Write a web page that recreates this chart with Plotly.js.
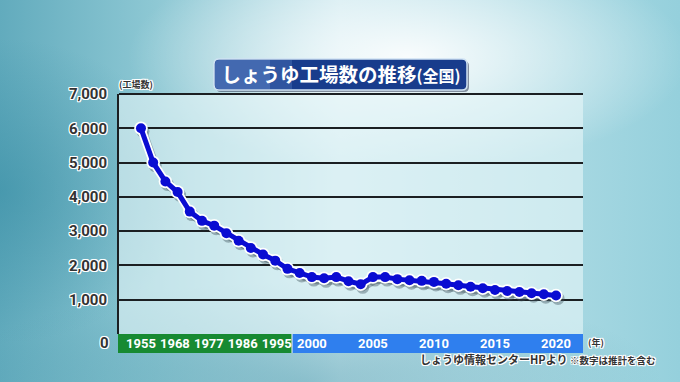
<!DOCTYPE html>
<html><head><meta charset="utf-8">
<script src="https://cdn.plot.ly/plotly-3.0.1.min.js"></script>
<style>
html,body{margin:0;padding:0;}
body{width:680px;height:382px;overflow:hidden;
background:
 radial-gradient(ellipse 55% 40% at 60% 15%, rgba(255,255,255,0.9), rgba(255,255,255,0) 75%),
 radial-gradient(ellipse 35% 50% at 0% 50%, rgba(40,130,155,0.45), rgba(40,130,155,0) 80%),
 radial-gradient(ellipse 70% 35% at 45% 100%, rgba(60,140,160,0.4), rgba(60,140,160,0) 75%),
 linear-gradient(90deg, #62abbd 0%, #8cc7d3 22%, #c9e7ee 50%, #b0dce5 75%, #95d0dc 100%);}
#chart{width:680px;height:382px;}
</style></head><body><div id="chart"></div>
<script>
// Number of soy sauce factories (nationwide)
const factories = [6000, 5000, 4450, 4140, 3570, 3300, 3160, 2940, 2720, 2510, 2320, 2140, 1900, 1780,
  1660, 1625, 1660, 1540, 1450, 1660, 1660, 1600, 1570, 1550, 1520, 1465, 1420, 1380, 1335, 1285,
  1255, 1225, 1190, 1160, 1125];
const earlyPointCount = 14;               // points before 2000 (irregular years)
const earlyTickLabels = ['1955', '1968', '1977', '1986', '1995'];
const laterTickYears = [2000, 2005, 2010, 2015, 2020];
const yTickValues = [1000, 2000, 3000, 4000, 5000, 6000, 7000];
const yTickLabels = ['1,000', '2,000', '3,000', '4,000', '5,000', '6,000', '7,000'];

const idx = factories.map((v, i) => i);

// layout geometry (pixels)
const L = 119, R = 583, T = 94, B = 334;
const W = 680, H = 382;
const xr = [-1.8, 36.21], yr = [0, 7000];
const pxX = (R - L) / (xr[1] - xr[0]);
const pxY = (B - T) / (yr[1] - yr[0]);
const px = x => (x - L) / (R - L);
const py = y => (B - y) / (B - T);

const earlySpacing = 2.78;
const tickvals = earlyTickLabels.map((t, k) => k * earlySpacing)
  .concat(laterTickYears.map(y => earlyPointCount + (y - 2000)));
const ticktext = earlyTickLabels.concat(laterTickYears.map(String));

const sdx = 2, sdy = 3;
const traces = [
  {x: idx, y: factories, xaxis: 'x2', yaxis: 'y2', mode: 'lines+markers', hoverinfo: 'skip',
   line: {color: 'rgba(60,80,90,0.4)', width: 8}, marker: {color: 'rgba(60,80,90,0.4)', size: 13}},
  {x: idx, y: factories, xaxis: 'x3', yaxis: 'y3', mode: 'lines+markers', hoverinfo: 'skip',
   line: {color: '#ffffff', width: 8.5}, marker: {color: '#ffffff', size: 13.5}},
  {x: idx, y: factories, xaxis: 'x3', yaxis: 'y3', mode: 'lines+markers',
   line: {color: '#0a0cd2', width: 5}, marker: {color: '#0a0cd2', size: 10}}
];

const outline = '1px 1px 0 #fff, -1px -1px 0 #fff, 1px -1px 0 #fff, -1px 1px 0 #fff, 0 1px 0 #fff, 0 -1px 0 #fff, 1px 0 0 #fff, -1px 0 0 #fff';

function roundRect(x0, y0, x1, y1, r) {
  const a = px(x0), b = px(x1), c = py(y0), d = py(y1);
  const rx = r / (R - L), ry = r / (B - T);
  return `M ${a + rx} ${c} L ${b - rx} ${c} Q ${b} ${c} ${b} ${c - ry} L ${b} ${d + ry} Q ${b} ${d} ${b - rx} ${d} ` +
    `L ${a + rx} ${d} Q ${a} ${d} ${a} ${d + ry} L ${a} ${c - ry} Q ${a} ${c} ${a + rx} ${c} Z`;
}
function leftRound(x0, y0, x1, y1, r) {
  const a = px(x0), b = px(x1), c = py(y0), d = py(y1);
  const rx = r / (R - L), ry = r / (B - T);
  return `M ${a + rx} ${c} L ${b} ${c} L ${b} ${d} L ${a + rx} ${d} Q ${a} ${d} ${a} ${d + ry} L ${a} ${c - ry} Q ${a} ${c} ${a + rx} ${c} Z`;
}

const shapes = [
  // title box shadow + box
  {type: 'path', xref: 'paper', yref: 'paper', path: roundRect(216, 61, 469, 92, 5), fillcolor: 'rgba(10,20,50,0.45)', line: {width: 0}, layer: 'above'},
  {type: 'path', xref: 'paper', yref: 'paper', path: roundRect(214, 59, 467, 90, 5), fillcolor: '#183c8c', line: {color: '#cfe2f3', width: 1.5}, layer: 'above'},
  {type: 'path', xref: 'paper', yref: 'paper', path: leftRound(215, 60, 270, 89, 4), fillcolor: 'rgba(120,160,220,0.45)', line: {width: 0}, layer: 'above'},
  {type: 'rect', xref: 'paper', yref: 'paper', x0: px(270), x1: px(292), y0: py(60), y1: py(89), fillcolor: 'rgba(120,160,220,0.25)', line: {width: 0}, layer: 'above'},
  // top line at 7000
  {type: 'line', xref: 'paper', yref: 'paper', x0: 0, x1: 1, y0: 1, y1: 1, line: {color: '#1b1f22', width: 2}, layer: 'below'},
  // x-axis bands
  {type: 'rect', xref: 'paper', yref: 'paper', x0: px(118), x1: px(292), y0: py(334), y1: py(353), fillcolor: '#178a32', line: {width: 0}, layer: 'below'},
  {type: 'rect', xref: 'paper', yref: 'paper', x0: px(292), x1: px(583), y0: py(334), y1: py(353), fillcolor: '#2f7fee', line: {width: 0}, layer: 'below'},
  {type: 'line', xref: 'paper', yref: 'paper', x0: px(292), x1: px(292), y0: py(334), y1: py(353), line: {color: '#ffffff', width: 1}, layer: 'below'}
];

const annFont = {family: 'Noto Sans CJK JP', color: '#333', weight: 700, shadow: outline};
const annotations = [
  {xref: 'paper', yref: 'y', x: px(111), y: 0, yshift: -9, text: '0', showarrow: false, xanchor: 'right', yanchor: 'middle',
   font: Object.assign({}, annFont, {size: 15, family: 'Roboto'})},
  {xref: 'paper', yref: 'paper', x: px(117), y: py(85), text: '(工場数)', showarrow: false, xanchor: 'left', yanchor: 'middle',
   font: Object.assign({}, annFont, {size: 9})},
  {xref: 'paper', yref: 'paper', x: px(586), y: py(342), text: '(年)', showarrow: false, xanchor: 'left', yanchor: 'middle',
   font: Object.assign({}, annFont, {size: 9})},
  {xref: 'paper', yref: 'paper', x: px(657), y: py(359), showarrow: false, xanchor: 'right', yanchor: 'middle',
   text: 'しょうゆ情報センターHPより <span style="font-size:9.5px">※数字は推計を含む</span>',
   font: Object.assign({}, annFont, {size: 11})}
];

const layout = {
  width: W, height: H,
  margin: {l: L, r: W - R, t: T, b: H - B, pad: 0},
  paper_bgcolor: 'rgba(0,0,0,0)',
  plot_bgcolor: 'rgba(232,246,249,0.6)',
  showlegend: false,
  title: {text: 'しょうゆ工場数の推移<span style="font-size:16px">(全国)</span>', x: 341 / W, xanchor: 'center',
          y: 1 - 75 / H, yanchor: 'middle', yref: 'container',
          font: {family: 'Noto Sans CJK JP', size: 19.5, color: '#ffffff', weight: 700}},
  xaxis: {range: xr, tickvals: tickvals, ticktext: ticktext, tickmode: 'array', showgrid: false, zeroline: false,
          showline: false, ticks: '', fixedrange: true,
          tickfont: {family: 'Roboto', size: 13, color: '#ffffff', weight: 700}},
  xaxis2: {range: [xr[0] - sdx / pxX, xr[1] - sdx / pxX], overlaying: 'x', visible: false, fixedrange: true},
  xaxis3: {range: xr, overlaying: 'x', visible: false, fixedrange: true},
  yaxis: {range: yr, tickvals: yTickValues, ticktext: yTickLabels, tickmode: 'array', showgrid: true,
          gridcolor: '#1b1f22', gridwidth: 2, zeroline: false, showline: true, linecolor: '#1b1f22', linewidth: 2,
          ticks: '', ticklabelstandoff: 7, fixedrange: true,
          tickfont: {family: 'Roboto', size: 15, color: '#333', weight: 700, shadow: outline}},
  yaxis2: {range: [yr[0] + sdy / pxY, yr[1] + sdy / pxY], overlaying: 'y', visible: false, fixedrange: true},
  yaxis3: {range: yr, overlaying: 'y', visible: false, fixedrange: true},
  shapes: shapes,
  annotations: annotations
};

Plotly.newPlot('chart', traces, layout, {displayModeBar: false, staticPlot: true});
</script></body></html>
